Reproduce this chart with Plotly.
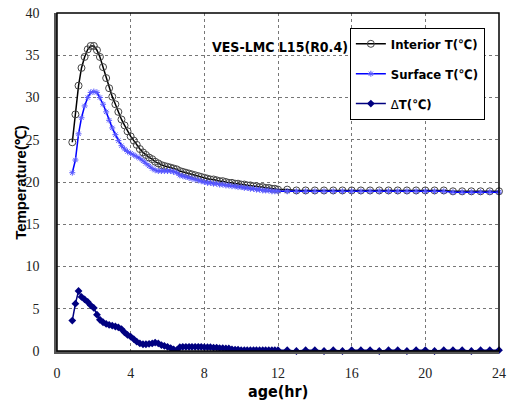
import plotly.graph_objects as go

ages = [0.83, 1.0, 1.17, 1.33, 1.5, 1.67, 1.83, 2.0, 2.17, 2.33, 2.5, 2.67, 2.83,
        3.0, 3.17, 3.33, 3.5, 3.67, 3.83, 4.0, 4.17, 4.33, 4.5, 4.67, 4.83,
        5.0, 5.17, 5.33, 5.5, 5.67, 5.83, 6.0, 6.17, 6.33, 6.5, 6.67, 6.83,
        7.0, 7.17, 7.33, 7.5, 7.67, 7.83, 8.0, 8.17, 8.33, 8.5, 8.67, 8.83,
        9.0, 9.17, 9.33, 9.5, 9.67, 9.83, 10.0, 10.17, 10.33, 10.5, 10.67, 10.83,
        11.0, 11.17, 11.33, 11.5, 11.67, 11.83, 12.0,
        12.5, 13.0, 13.5, 14.0, 14.5, 15.0, 15.5, 16.0, 16.5, 17.0, 17.5, 18.0,
        18.5, 19.0, 19.5, 20.0, 20.5, 21.0, 21.5, 22.0, 22.5, 23.0, 23.5, 24.0]

interior = [24.7, 28.0, 31.4, 33.5, 34.8, 35.7, 36.1, 36.1, 35.6, 34.8, 33.6, 32.3, 31.1,
            30.1, 29.2, 28.3, 27.4, 26.7, 26.0, 25.4, 24.9, 24.4, 23.9, 23.5, 23.2,
            22.9, 22.7, 22.4, 22.2, 22.0, 21.9, 21.8, 21.7, 21.6, 21.5, 21.3, 21.2,
            21.1, 21.0, 20.9, 20.8, 20.7, 20.6, 20.5, 20.4, 20.3, 20.3, 20.2, 20.1,
            20.1, 20.0, 19.9, 19.9, 19.8, 19.8, 19.7, 19.7, 19.6, 19.6, 19.5, 19.5,
            19.4, 19.4, 19.3, 19.3, 19.2, 19.2, 19.1,
            19.1, 19.0, 19.0, 19.0, 19.0, 19.0, 19.0, 19.0, 19.0, 19.0, 19.0, 19.0,
            19.0, 19.0, 19.0, 19.0, 19.0, 19.0, 18.9, 18.9, 18.9, 18.9, 18.9, 18.9]

surface = [21.1, 22.6, 25.7, 27.6, 29.0, 30.0, 30.6, 30.7, 30.6, 30.0, 29.2, 28.3, 27.3,
           26.4, 25.6, 24.9, 24.3, 23.9, 23.6, 23.4, 23.2, 23.0, 22.8, 22.5, 22.2,
           21.9, 21.6, 21.4, 21.3, 21.3, 21.3, 21.3, 21.3, 21.2, 21.1, 20.8, 20.7,
           20.6, 20.5, 20.4, 20.3, 20.2, 20.1, 20.0, 19.9, 19.9, 19.8, 19.8, 19.7,
           19.7, 19.6, 19.6, 19.5, 19.5, 19.4, 19.4, 19.3, 19.3, 19.2, 19.2, 19.1,
           19.1, 19.0, 19.0, 19.0, 18.9, 18.9, 18.9,
           18.9, 18.9, 18.9, 18.9, 18.9, 18.9, 18.9, 18.9, 18.9, 18.9, 18.9, 18.9,
           18.9, 18.9, 18.9, 18.9, 18.9, 18.9, 18.8, 18.8, 18.8, 18.8, 18.8, 18.8]

delta = [3.6, 5.6, 7.1, 6.4, 6.1, 5.8, 5.4, 5.1, 4.3, 3.7, 3.4, 3.2, 3.1,
         3.0, 2.9, 2.8, 2.6, 2.2, 1.9, 1.7, 1.4, 1.1, 0.9, 0.8, 0.8,
         0.85, 0.9, 1.0, 0.9, 0.7, 0.6, 0.5, 0.35, 0.2, 0.1, 0.45, 0.5,
         0.5, 0.5, 0.5, 0.5, 0.5, 0.5, 0.45, 0.45, 0.45, 0.4, 0.4, 0.35,
         0.35, 0.3, 0.3, 0.2, 0.15, 0.15, 0.1, 0.1, 0.1, 0.1, 0.1, 0.1,
         0.1, 0.1, 0.1, 0.1, 0.1, 0.1, 0.1,
         0.1, 0.0, 0.1, 0.1, 0.0, 0.1, 0.0, 0.1, 0.1, 0.1, 0.0, 0.1,
         0.1, 0.0, 0.1, 0.1, 0.0, 0.1, 0.1, 0.1, 0.0, 0.1, 0.1, 0.1]

x_ticks = [0, 4, 8, 12, 16, 20, 24]
y_ticks = [0, 5, 10, 15, 20, 25, 30, 35, 40]

COND = "DejaVu Sans Condensed, Liberation Sans Narrow, Liberation Sans, Arial"
SANS = "Liberation Sans, Arial"
SERIF = "Liberation Serif, DejaVu Serif, Times New Roman, serif"

fig = go.Figure()
fig.add_trace(go.Scatter(
    x=ages, y=interior, name="<b>Interior T(℃)</b>", mode="lines+markers",
    line=dict(color="black", width=1.5),
    marker=dict(symbol="circle-open", size=7, color="#444", line=dict(width=1)),
    legendgroup="a", cliponaxis=False))
fig.add_trace(go.Scatter(
    x=ages, y=surface, name="<b>Surface T(℃)</b>", mode="lines+markers",
    line=dict(color="#0000ff", width=1.5),
    marker=dict(symbol="asterisk-open", size=5, color="#5a5aff", line=dict(width=1)),
    legendgroup="b", cliponaxis=False))
fig.add_trace(go.Scatter(
    x=ages, y=delta, name="Δ<b>T(℃)</b>", mode="lines+markers",
    line=dict(color="#000080", width=1.5),
    marker=dict(symbol="diamond", size=6, color="#000080"),
    legendgroup="c", cliponaxis=False))

fig.update_layout(
    width=507, height=407,
    margin=dict(l=57, r=8, t=13, b=56, autoexpand=False),
    paper_bgcolor="white", plot_bgcolor="white",
    showlegend=True,
    legend=dict(x=0.968, y=0.956, xanchor="right", yanchor="top",
                bgcolor="white", bordercolor="black", borderwidth=1,
                font=dict(family=COND, size=13, color="black"),
                tracegroupgap=10, itemwidth=30),
    font=dict(family=SANS, color="black"),
    annotations=[
        dict(text="<b>VES-LMC L15(R0.4)</b>", x=0.505, y=0.928,
             xref="paper", yref="paper", showarrow=False,
             font=dict(family=COND, size=14, color="black")),
        dict(text="<b>Temperature(℃)</b>", x=-0.084, y=0.5, textangle=-90,
             xref="paper", yref="paper", showarrow=False,
             xanchor="center", yanchor="middle",
             font=dict(family=SANS, size=15, color="black")),
        dict(text="<b>age(hr)</b>", x=0.501, y=-0.121,
             xref="paper", yref="paper", showarrow=False,
             xanchor="center", yanchor="middle",
             font=dict(family=COND, size=16, color="black")),
    ],
    shapes=[dict(type="rect", xref="paper", yref="paper", x0=0, x1=1, y0=0, y1=1,
                 line=dict(color="black", width=1.5), layer="above")],
)
fig.update_xaxes(range=[0, 24], tickvals=x_ticks, ticks="", showgrid=True, automargin=False,
                 gridcolor="#777", griddash="dot", gridwidth=1,
                 showline=True, linecolor="#555", linewidth=2.5, zeroline=False,
                 ticklabelstandoff=7, ticklabeloverflow="allow",
                 tickfont=dict(family=SERIF, size=14, color="#222"))
fig.update_yaxes(range=[0, 40], tickvals=y_ticks, ticks="", showgrid=True, automargin=False,
                 gridcolor="#777", griddash="dot", gridwidth=1,
                 showline=True, linecolor="#555", linewidth=2.5, zeroline=False,
                 ticklabelstandoff=12, ticklabeloverflow="allow",
                 tickfont=dict(family=SERIF, size=14, color="#222"))

fig.write_html("out.html", config={"displayModeBar": False},
               post_script="document.body.style.margin='0px';document.body.style.overflow='hidden';")
